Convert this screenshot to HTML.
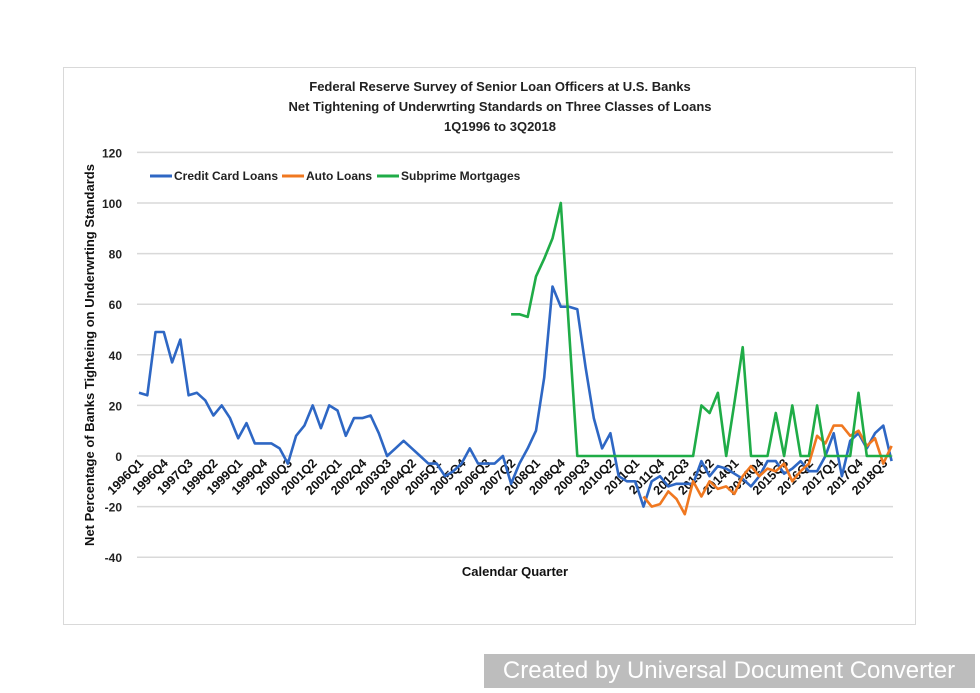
<!DOCTYPE html>
<html><head><meta charset="utf-8"><style>
body{margin:0;background:#fff;width:980px;height:693px;overflow:hidden;font-family:"Liberation Sans",sans-serif;}
svg{display:block}
</style></head><body>
<svg id="chart" width="980" height="693" viewBox="0 0 980 693">
<rect x="63.5" y="67.5" width="852" height="557" fill="#fff" stroke="#d9d9d9"/>
<g font-weight="bold" font-size="13" text-anchor="middle" fill="#222">
<text x="500" y="91">Federal Reserve Survey of Senior Loan Officers at U.S. Banks</text>
<text x="500" y="111">Net Tightening  of Underwrting Standards on Three Classes of Loans</text>
<text x="500" y="131">1Q1996 to 3Q2018</text>
</g>
<g id="grid"></g><g id="yticks"></g><g id="xticks"></g><g id="series"></g>
<text x="515" y="576" text-anchor="middle" font-weight="bold" font-size="13" fill="#111">Calendar Quarter</text>
<text transform="translate(94,355) rotate(-90)" text-anchor="middle" font-weight="bold" font-size="13" fill="#111">Net Percentage of Banks Tighteing on Underwrting Standards</text>
<g font-weight="bold" font-size="12" fill="#222">
<line x1="150" y1="176" x2="172" y2="176" stroke="#2e67c4" stroke-width="3"/><text x="174" y="180">Credit Card Loans</text>
<line x1="282" y1="176" x2="304" y2="176" stroke="#f07820" stroke-width="3"/><text x="306" y="180">Auto Loans</text>
<line x1="377" y1="176" x2="399" y2="176" stroke="#1fac47" stroke-width="3"/><text x="401" y="180">Subprime Mortgages</text>
</g>
<rect x="484" y="654" width="491" height="34" fill="#bdbdbd"/>
<text x="729" y="678" text-anchor="middle" font-size="24" fill="#fff">Created by Universal Document Converter</text>
</svg>
<script>
const yTicks=[120,100,80,60,40,20,0,-20,-40];
const credit=[25,24,49,49,37,46,24,25,22,16,20,15,7,13,5,5,5,3,-3,8,12,20,11,20,18,8,15,15,16,9,0,3,6,3,0,-3,-3,-8,-6,-3,3,-3,-3,-3,0,-11,-3,3,10,31,67,59,59,58,35,15,3,9,-8,-10,-10,-20,-10,-8,-12,-11,-11,-11,-2,-8,-4,-5,-7,-9,-12,-8,-2,-2,-7,-5,-2,-6,-6,0,9,-8,6,9,3,9,12,-2];
const auto=[null,null,null,null,null,null,null,null,null,null,null,null,null,null,null,null,null,null,null,null,null,null,null,null,null,null,null,null,null,null,null,null,null,null,null,null,null,null,null,null,null,null,null,null,null,null,null,null,null,null,null,null,null,null,null,null,null,null,null,null,null,-16,-20,-19,-14,-17,-23,-10,-16,-10,-13,-12,-15,-8,-4,-8,-5,-6,-3,-10,-6,-3,8,5,12,12,8,10,4,7,-3,4];
const subprime=[null,null,null,null,null,null,null,null,null,null,null,null,null,null,null,null,null,null,null,null,null,null,null,null,null,null,null,null,null,null,null,null,null,null,null,null,null,null,null,null,null,null,null,null,null,56,56,55,71,78,86,100,50,0,0,0,0,0,0,0,0,0,0,0,0,0,0,0,20,17,25,0,21,43,0,0,0,17,0,20,0,0,20,0,0,0,0,25,0,0,0,0];
const quarters=[];for(let y=1996;y<=2018;y++)for(let q=1;q<=4;q++)quarters.push(y+"Q"+q);
const NS="http://www.w3.org/2000/svg";
const X=i=>139+i*8.27;
const Y=v=>456-v*2.53;
function mk(tag,attrs,parent){const e=document.createElementNS(NS,tag);for(const k in attrs)e.setAttribute(k,attrs[k]);parent.appendChild(e);return e;}
const grid=document.getElementById('grid'),yt=document.getElementById('yticks'),xt=document.getElementById('xticks'),ser=document.getElementById('series');
yTicks.forEach(v=>{
 const l=mk('line',{x1:137,x2:893,y1:Y(v),y2:Y(v),stroke:'#d9d9d9','stroke-width':1.5},grid);
 
 
 const t=mk('text',{x:122,y:Y(v)+5,'text-anchor':'end','font-size':12,'font-weight':'bold',fill:'#222'},yt);
 t.textContent=v;
 
 
});
quarters.forEach((q,i)=>{
 if(i%3!==0)return;
 const x=X(i)+5,y=464;
 const t=mk('text',{x:x,y:y,'text-anchor':'end','font-size':12.5,'font-weight':'bold',fill:'#111',transform:`rotate(-45 ${x} ${y})`},xt);
 t.textContent=q;
 
 
});
function draw(data,color,name){
 let d='',pen=false;
 data.forEach((v,i)=>{if(v===null){pen=false;return;}d+=(pen?'L':'M')+X(i).toFixed(1)+' '+Y(v).toFixed(1)+' ';pen=true;});
 const p=mk('path',{d:d,fill:'none',stroke:color,'stroke-width':2.6,'stroke-linejoin':'round'},ser);
 
 
}
draw(credit,'#2e67c4','credit-card-line');
draw(auto,'#f07820','auto-loans-line');
draw(subprime,'#1fac47','subprime-line');
</script>
</body></html>
